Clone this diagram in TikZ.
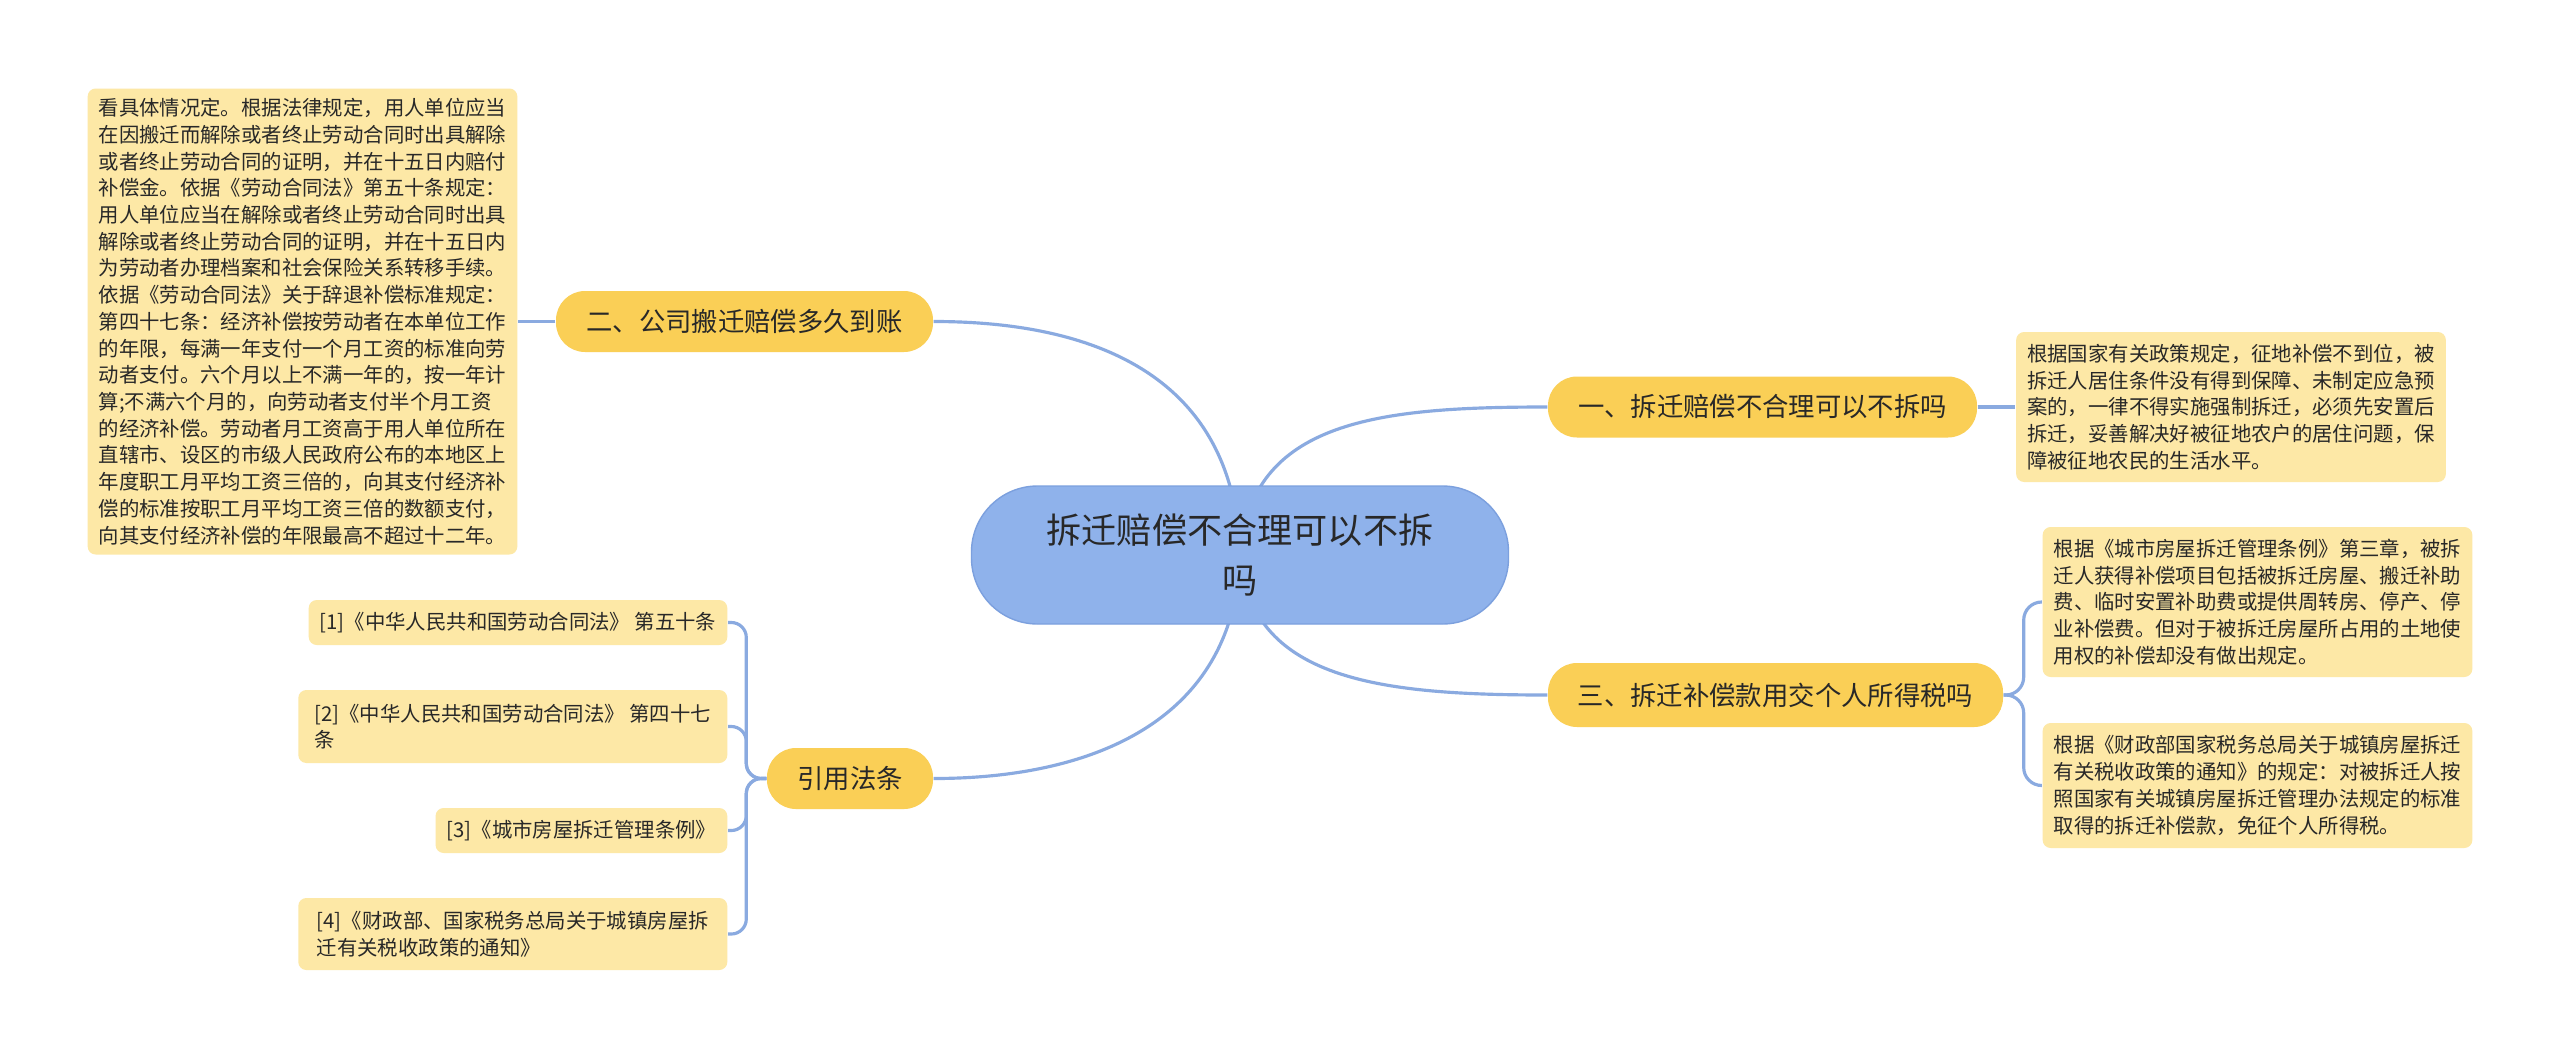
\documentclass[tikz,border=0pt]{standalone}
\usepackage{fontspec}
\usepackage{xcolor}
\usepackage{tikz}
\usetikzlibrary{arrows.meta, positioning, backgrounds}
\newfontfamily\cjk{Noto Sans CJK SC}
\definecolor{mmRoot}{RGB}{143,178,235}
\definecolor{mmRootLine}{RGB}{124,160,222}
\definecolor{mmBranch}{RGB}{250,207,86}
\definecolor{mmLeaf}{RGB}{253,232,166}
\definecolor{mmLink}{RGB}{138,170,224}
\definecolor{mmText}{RGB}{40,40,40}
\newcommand{\rootfont}{\cjk\fontsize{10pt}{14.2pt}\selectfont}
\newcommand{\branchfont}{\cjk\fontsize{7.5pt}{9pt}\selectfont}
\newcommand{\leaffont}{\cjk\fontsize{5.8pt}{7.6pt}\selectfont}

\begin{document}
\begin{tikzpicture}[
    root/.style={fill=mmRoot, draw=mmRootLine, rounded corners=0.66cm, minimum width=5.37cm,
      minimum height=1.38cm, align=center, font=\rootfont, text=mmText, inner sep=0pt},
    branch/.style={fill=mmBranch, rounded corners=0.29cm, minimum height=0.61cm,
      align=center, font=\branchfont, text=mmText, inner sep=0pt},
    leaf/.style={fill=mmLeaf, rounded corners=0.08cm, align=left, font=\leaffont,
      text=mmText, inner xsep=0.11cm, inner ysep=0pt},
    link/.style={draw=mmLink, line width=0.9pt}
  ]
    \node[root] (root) at (12.40,-5.55) {拆迁赔偿不合理可以不拆\\吗};

    \node[branch, minimum width=3.77cm] (b2) at (7.445,-3.215) {二、公司搬迁赔偿多久到账};
    \node[branch, minimum width=4.29cm] (b1) at (17.625,-4.07) {一、拆迁赔偿不合理可以不拆吗};
    \node[branch, minimum width=4.55cm, minimum height=0.64cm] (b3) at (17.755,-6.95) {三、拆迁补偿款用交个人所得税吗};
    \node[branch, minimum width=1.66cm] (cite) at (8.50,-7.785) {引用法条};

    \node[leaf, minimum width=4.29cm, minimum height=4.66cm] (law) at (3.025,-3.215) {看具体情况定。根据法律规定，用人单位应当\\在因搬迁而解除或者终止劳动合同时出具解除\\或者终止劳动合同的证明，并在十五日内赔付\\补偿金。依据《劳动合同法》第五十条规定：\\用人单位应当在解除或者终止劳动合同时出具\\解除或者终止劳动合同的证明，并在十五日内\\为劳动者办理档案和社会保险关系转移手续。\\依据《劳动合同法》关于辞退补偿标准规定：\\第四十七条：经济补偿按劳动者在本单位工作\\的年限，每满一年支付一个月工资的标准向劳\\动者支付。六个月以上不满一年的，按一年计\\算;不满六个月的，向劳动者支付半个月工资\\的经济补偿。劳动者月工资高于用人单位所在\\直辖市、设区的市级人民政府公布的本地区上\\年度职工月平均工资三倍的，向其支付经济补\\偿的标准按职工月平均工资三倍的数额支付，\\向其支付经济补偿的年限最高不超过十二年。};

    \node[leaf, minimum width=4.28cm, minimum height=1.50cm] (r1) at (22.31,-4.07) {根据国家有关政策规定，征地补偿不到位，被\\拆迁人居住条件没有得到保障、未制定应急预\\案的，一律不得实施强制拆迁，必须先安置后\\拆迁，妥善解决好被征地农户的居住问题，保\\障被征地农民的生活水平。};
    \node[leaf, minimum width=4.29cm, minimum height=1.50cm] (r2) at (22.575,-6.02) {根据《城市房屋拆迁管理条例》第三章，被拆\\迁人获得补偿项目包括被拆迁房屋、搬迁补助\\费、临时安置补助费或提供周转房、停产、停\\业补偿费。但对于被拆迁房屋所占用的土地使\\用权的补偿却没有做出规定。};
    \node[leaf, minimum width=4.29cm, minimum height=1.25cm] (r3) at (22.575,-7.855) {根据《财政部国家税务总局关于城镇房屋拆迁\\有关税收政策的通知》的规定：对被拆迁人按\\照国家有关城镇房屋拆迁管理办法规定的标准\\取得的拆迁补偿款，免征个人所得税。};

    \node[leaf, anchor=east, minimum height=0.45cm] (ref1) at (7.28,-6.225) {[1]《中华人民共和国劳动合同法》 第五十条};
    \node[leaf, anchor=east, minimum width=4.29cm, minimum height=0.73cm] (ref2) at (7.28,-7.265) {[2]《中华人民共和国劳动合同法》 第四十七\\条};
    \node[leaf, anchor=east, minimum height=0.45cm] (ref3) at (7.28,-8.305) {[3]《城市房屋拆迁管理条例》};
    \node[leaf, anchor=east, minimum width=4.29cm, minimum height=0.72cm] (ref4) at (7.28,-9.34) {[4]《财政部、国家税务总局关于城镇房屋拆\\迁有关税收政策的通知》};

    \begin{scope}[on background layer]
      \fill[white] (0,0) rectangle (25.60,-10.59);
      \useasboundingbox (0,0) rectangle (25.60,-10.59);
      % main branches
      \draw[link] (root.center) .. controls +(-0.05,1.75) and +(1.67,0) .. (b2.east);
      \draw[link] (root.center) .. controls +(0.10,1.35) and +(-1.68,0) .. (b1.west);
      \draw[link] (root.center) .. controls +(0.10,-1.25) and +(-1.68,0) .. (b3.west);
      \draw[link] (root.center) .. controls +(-0.05,-1.65) and +(1.60,0) .. (cite.east);
      % leaves
      \draw[link] (b2.west) -- (law.east);
      \draw[link] (b1.east) -- (r1.west);
      \draw[link, rounded corners=0.18cm] (b3.east) -- ++(0.20,0) |- (r2.west);
      \draw[link, rounded corners=0.18cm] (b3.east) -- ++(0.20,0) |- (r3.west);
      \foreach \r in {ref1,ref2,ref3,ref4}
        \draw[link, rounded corners=0.15cm] (cite.west) -- ++(-0.20,0) |- (\r.east);
    \end{scope}
  \end{tikzpicture}
\end{document}
